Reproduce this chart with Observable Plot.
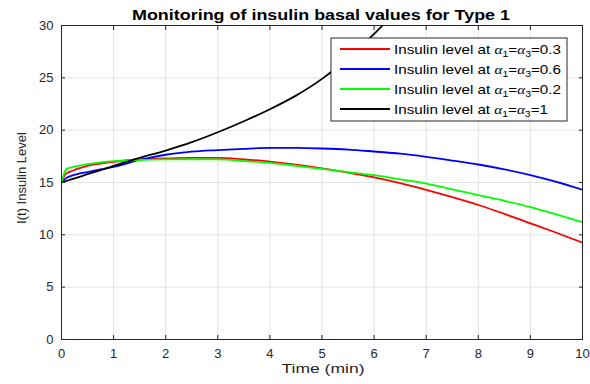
<!DOCTYPE html>
<html><head><meta charset="utf-8">
<script src="https://cdn.jsdelivr.net/npm/d3@7"></script>
<script src="https://cdn.jsdelivr.net/npm/@observablehq/plot@0.6"></script>
<style>body{margin:0;background:#fff} #chart{width:590px;height:384px}</style>
</head><body><div id="chart"></div>
<script>
// time points (min)
const time = [0, 0.05, 0.1, 0.2, 0.3, 0.5, 0.75, 1, 1.5, 2, 2.5, 3, 3.5, 4, 4.5, 5, 5.5, 6, 6.5, 7, 7.5, 8, 8.5, 9, 9.5, 10];
// alpha1 = alpha3 = 0.3
const insulinA03 = [15, 15.6, 15.9, 16.1, 16.3, 16.6, 16.8, 16.97, 17.22, 17.3, 17.35, 17.35, 17.2, 17.0, 16.7, 16.35, 15.95, 15.5, 14.95, 14.3, 13.6, 12.85, 12.0, 11.1, 10.2, 9.25];
// alpha1 = alpha3 = 0.6
const insulinA06 = [15, 15.25, 15.45, 15.65, 15.8, 16.0, 16.25, 16.5, 17.15, 17.65, 17.95, 18.1, 18.22, 18.3, 18.3, 18.25, 18.15, 17.96, 17.75, 17.45, 17.1, 16.72, 16.25, 15.7, 15.05, 14.3];
// alpha1 = alpha3 = 0.2
const insulinA02 = [15, 15.85, 16.3, 16.45, 16.56, 16.75, 16.92, 17.04, 17.15, 17.2, 17.22, 17.2, 17.05, 16.87, 16.6, 16.3, 16.0, 15.7, 15.3, 14.9, 14.35, 13.8, 13.25, 12.65, 11.95, 11.2];
// alpha1 = alpha3 = 1 (leaves the axes at the top)
const timeA1 = [0, 0.05, 0.1, 0.2, 0.3, 0.5, 0.75, 1, 1.5, 2, 2.5, 3, 3.5, 4, 4.5, 5, 5.5, 6, 6.16, 6.3];
const insulinA1 = [15, 15.08, 15.16, 15.32, 15.47, 15.79, 16.18, 16.58, 17.35, 18.05, 18.85, 19.8, 20.85, 22.0, 23.3, 24.9, 26.9, 29.2, 30.0, 30.8];

const seriesKeys = ["0.3", "0.6", "0.2", "1"];
const seriesColors = ["#ff0000", "#0000ff", "#00ff00", "#000000"];
const xTicks = [0, 1, 2, 3, 4, 5, 6, 7, 8, 9, 10];
const yTicks = [0, 5, 10, 15, 20, 25, 30];
const titleText = "Monitoring of insulin basal values for Type 1";
const xLabel = "Time (min)";
const yLabel = "I(t) Insulin Level";

const rows = [];
[[time, insulinA03], [time, insulinA06], [time, insulinA02], [timeA1, insulinA1]].forEach(([ts, vs], k) => {
  ts.forEach((t, i) => rows.push({t, v: vs[i], s: seriesKeys[k]}));
});

const ink = "#262626";
const chart = Plot.plot({
  width: 590, height: 384,
  marginLeft: 61, marginRight: 8, marginTop: 25, marginBottom: 45,
  style: {fontFamily: "'Liberation Sans', Arial, sans-serif", fontSize: "13px", color: ink, background: "#fff"},
  x: {domain: [0, 10]},
  y: {domain: [0, 30]},
  color: {domain: seriesKeys, range: seriesColors},
  marks: [
    Plot.gridX(xTicks, {stroke: "#e3e3e3", strokeOpacity: 1}),
    Plot.gridY(yTicks, {stroke: "#e3e3e3", strokeOpacity: 1}),
    Plot.line(rows, {x: "t", y: "v", z: "s", stroke: "s", strokeWidth: 1.8, curve: "monotone-x", clip: true}),
    Plot.frame({stroke: ink}),
    Plot.axisX(xTicks, {anchor: "bottom", tickSize: -4, tickPadding: 13, label: null, tickFormat: d => String(d)}),
    Plot.axisX(xTicks, {anchor: "top", tickSize: -4, label: null, tickFormat: () => ""}),
    Plot.axisY(yTicks, {anchor: "left", tickSize: -4, tickPadding: 12, label: null, tickFormat: d => String(d)}),
    Plot.axisY(yTicks, {anchor: "right", tickSize: -4, label: null, tickFormat: () => ""})
  ]
});
document.getElementById("chart").appendChild(chart);

const svg = d3.select(chart);
const font = "'Liberation Sans', Arial, sans-serif";
// title
svg.append("text").attr("x", 321).attr("y", 19.5).attr("text-anchor", "middle")
  .attr("font-family", font).attr("font-weight", "bold").attr("font-size", 14).attr("fill", "#000")
  .attr("textLength", 378).attr("lengthAdjust", "spacingAndGlyphs").text(titleText);
// x label
svg.append("text").attr("x", 323).attr("y", 373).attr("text-anchor", "middle")
  .attr("font-family", font).attr("font-weight", "normal").attr("font-size", 13).attr("fill", ink)
  .attr("textLength", 83).attr("lengthAdjust", "spacingAndGlyphs").text(xLabel);
// y label
svg.append("text").attr("transform", "translate(26,178) rotate(-90)").attr("text-anchor", "middle")
  .attr("font-family", font).attr("font-weight", "normal").attr("font-size", 13).attr("fill", ink).text(yLabel);

// legend
const lg = svg.append("g");
lg.append("rect").attr("x", 331).attr("y", 38).attr("width", 236).attr("height", 83)
  .attr("fill", "#fff").attr("stroke", ink).attr("stroke-width", 1);
const widths = [167, 167, 167, 154];
seriesKeys.forEach((key, i) => {
  const y = 49 + 20 * i;
  lg.append("line").attr("x1", 340).attr("x2", 390).attr("y1", y).attr("y2", y)
    .attr("stroke", seriesColors[i]).attr("stroke-width", 1.8);
  const t = lg.append("text").attr("x", 394).attr("y", y + 4.5).attr("text-anchor", "start")
    .attr("font-family", font).attr("font-weight", "normal").attr("font-size", 13).attr("fill", "#000")
    .attr("textLength", widths[i]).attr("lengthAdjust", "spacingAndGlyphs");
  t.append("tspan").text("Insulin level at ");
  t.append("tspan").attr("font-family", "'Liberation Serif', serif").attr("font-style", "italic").text("α");
  t.append("tspan").attr("font-size", 9).attr("dy", 3).text("1");
  t.append("tspan").attr("dy", -3).text("=");
  t.append("tspan").attr("font-family", "'Liberation Serif', serif").attr("font-style", "italic").text("α");
  t.append("tspan").attr("font-size", 9).attr("dy", 3).text("3");
  t.append("tspan").attr("dy", -3).text("=" + key);
});
</script>
</body></html>
